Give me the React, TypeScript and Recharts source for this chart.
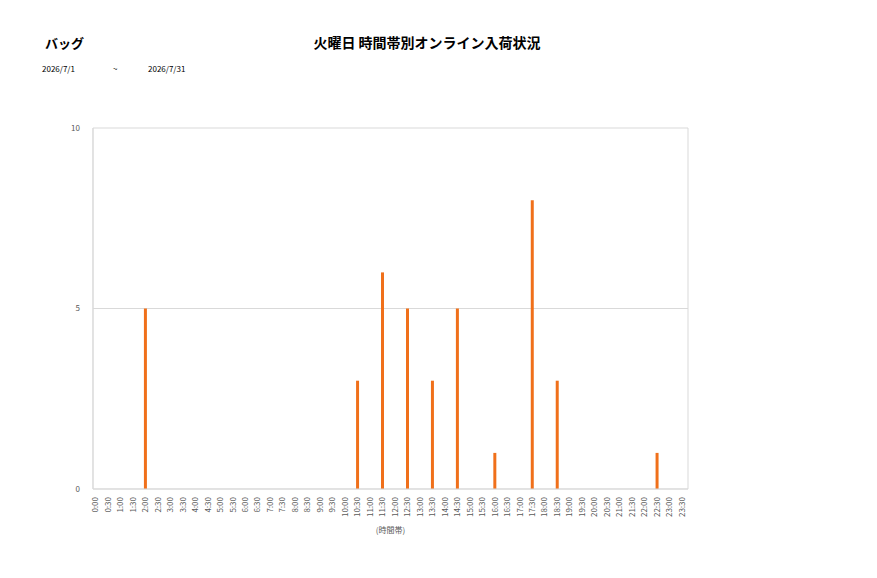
import React from 'react';
import { Bar, BarChart, CartesianGrid, XAxis, YAxis } from 'recharts';

const timeSlots = [
  '0:00', '0:30', '1:00', '1:30', '2:00', '2:30', '3:00', '3:30',
  '4:00', '4:30', '5:00', '5:30', '6:00', '6:30', '7:00', '7:30',
  '8:00', '8:30', '9:00', '9:30', '10:00', '10:30', '11:00', '11:30',
  '12:00', '12:30', '13:00', '13:30', '14:00', '14:30', '15:00', '15:30',
  '16:00', '16:30', '17:00', '17:30', '18:00', '18:30', '19:00', '19:30',
  '20:00', '20:30', '21:00', '21:30', '22:00', '22:30', '23:00', '23:30',
];

const arrivals = [
  0, 0, 0, 0, 5, 0, 0, 0,
  0, 0, 0, 0, 0, 0, 0, 0,
  0, 0, 0, 0, 0, 3, 0, 6,
  0, 5, 0, 3, 0, 5, 0, 0,
  1, 0, 0, 8, 0, 3, 0, 0,
  0, 0, 0, 0, 0, 1, 0, 0,
];

const yTicks = [0, 5, 10];

const chartData = timeSlots.map((slot, i) => ({ slot, count: arrivals[i] }));

const FONT = '"Noto Sans CJK JP", "Noto Sans", sans-serif';
const GRID = '#d9d9d9';
const LABEL = '#595959';

function SlotTick(props: any) {
  const { x, y, payload } = props;
  return (
    <text
      transform={`translate(${x + 3},${y + 8}) rotate(-90)`}
      textAnchor="end"
      fontSize={8}
      fontFamily={FONT}
      fill={LABEL}
    >
      {payload.value}
    </text>
  );
}

export default function App() {
  return (
    <div style={{ position: 'absolute', left: 0, top: 0, width: 877, height: 578, background: '#fff', fontFamily: FONT }}>
      <div style={{ position: 'absolute', left: 45, top: 33, fontSize: 13, fontWeight: 700, color: '#000' }}>バッグ</div>
      <div style={{ position: 'absolute', left: 0, width: 854, top: 32, textAlign: 'center', fontSize: 14, fontWeight: 700, color: '#000' }}>
        火曜日 時間帯別オンライン入荷状況
      </div>
      <div style={{ position: 'absolute', left: 42, top: 63, fontSize: 8, color: '#000' }}>2026/7/1</div>
      <div style={{ position: 'absolute', left: 113, top: 63, fontSize: 8, color: '#000' }}>~</div>
      <div style={{ position: 'absolute', left: 148, top: 63, fontSize: 8, color: '#000' }}>2026/7/31</div>

      <BarChart
        width={877}
        height={578}
        data={chartData}
        margin={{ top: 128, right: 189, bottom: 44, left: 63 }}
        style={{ position: 'absolute', left: 0, top: 0 }}
      >
        <CartesianGrid
          stroke={GRID}
          horizontal
          vertical
          verticalCoordinatesGenerator={({ offset }: any) => [offset.left, offset.left + offset.width]}
        />
        <XAxis
          dataKey="slot"
          interval={0}
          height={45}
          tickSize={0}
          tickMargin={0}
          tickLine={false}
          axisLine={{ stroke: GRID }}
          padding={{ left: -4, right: 0 }}
          tick={<SlotTick />}
          label={{ value: '(時間帯)', position: 'insideBottom', offset: 1, fontSize: 8, fill: LABEL, fontFamily: FONT }}
        />
        <YAxis
          width={30}
          domain={[0, 10]}
          ticks={yTicks}
          tickSize={0}
          tickMargin={13}
          tickLine={false}
          axisLine={{ stroke: GRID }}
          tick={{ fontSize: 8, fill: LABEL, fontFamily: FONT }}
        />
        <Bar dataKey="count" fill="#f0701a" barSize={3} isAnimationActive={false} />
      </BarChart>
    </div>
  );
}
